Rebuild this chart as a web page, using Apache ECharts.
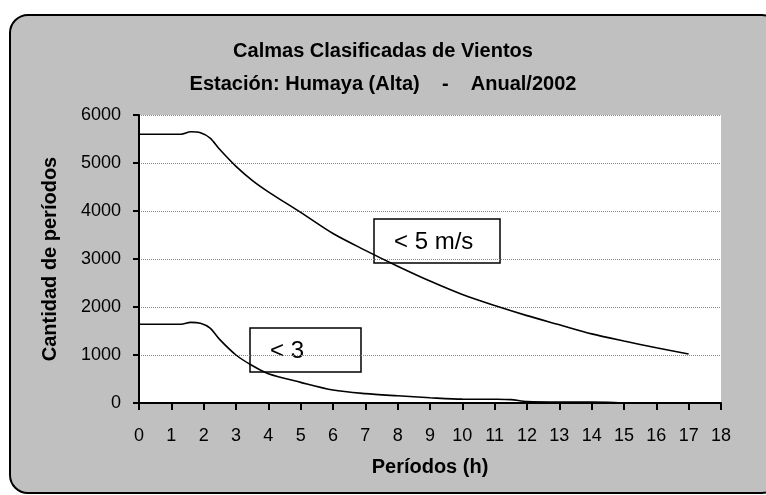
<!DOCTYPE html>
<html>
<head>
<meta charset="utf-8">
<script src="https://cdn.jsdelivr.net/npm/echarts@6/dist/echarts.min.js"></script>
<style>
html,body{margin:0;padding:0;background:#ffffff;}
#chart{width:766px;height:495px;}
</style>
</head>
<body>
<div id="chart"></div>
<script>
var titleLine1 = 'Calmas Clasificadas de Vientos';
var titleLine2 = 'Estación: Humaya (Alta)    -    Anual/2002';
var xAxisName = 'Períodos (h)';
var yAxisName = 'Cantidad de períodos';
var labelA = '< 5 m/s';
var labelB = '< 3';

var hoursA = [0, 1, 1.3, 1.6, 1.9, 2.2, 2.5, 3, 3.5, 4, 5, 6, 7, 8, 9, 10, 11, 12, 13, 14, 15, 16, 17];
var valuesA = [5600, 5600, 5600, 5650, 5630, 5520, 5280, 4930, 4640, 4400, 3970, 3530, 3180, 2850, 2540, 2260, 2030, 1820, 1630, 1440, 1290, 1150, 1020];

var hoursB = [0, 1, 1.3, 1.6, 1.9, 2.2, 2.5, 3, 3.5, 4, 5, 6, 7, 8, 9, 10, 11, 11.5, 12, 13, 14, 14.5, 15];
var valuesB = [1640, 1640, 1640, 1680, 1660, 1560, 1320, 1000, 780, 610, 430, 270, 195, 150, 110, 80, 78, 70, 30, 20, 20, 15, 0];

function pairs(xs, ys) {
  var out = [];
  for (var i = 0; i < xs.length; i++) out.push([xs[i], ys[i]]);
  return out;
}

var FONT = '"Liberation Sans", Arial, sans-serif';
var chart = echarts.init(document.getElementById('chart'), null, {renderer: 'canvas'});

var option = {
  backgroundColor: '#ffffff',
  animation: false,
  textStyle: {fontFamily: FONT},
  graphic: [
    {
      type: 'rect', z: -10, silent: true,
      shape: {x: 10, y: 15, width: 770, height: 478, r: 18},
      style: {fill: '#c0c0c0', stroke: '#000000', lineWidth: 2}
    },
    {
      type: 'rect', z: -5, silent: true,
      shape: {x: 139, y: 115, width: 582, height: 288},
      style: {fill: '#ffffff'}
    },
    {
      type: 'group', z: 100, x: 374, y: 219,
      children: [
        {type: 'rect', shape: {x: 0, y: 0, width: 126, height: 44}, style: {fill: '#ffffff', stroke: '#000000', lineWidth: 1.5}},
        {type: 'text', x: 20, y: 23, style: {text: labelA, font: '24px ' + FONT, fill: '#000000', verticalAlign: 'middle', align: 'left'}}
      ]
    },
    {
      type: 'group', z: 100, x: 250, y: 328,
      children: [
        {type: 'rect', shape: {x: 0, y: 0, width: 111, height: 44}, style: {fill: '#ffffff', stroke: '#000000', lineWidth: 1.5}},
        {type: 'text', x: 20, y: 23, style: {text: labelB, font: '24px ' + FONT, fill: '#000000', verticalAlign: 'middle', align: 'left'}}
      ]
    }
  ],
  title: [
    {text: titleLine1, left: 'center', top: 36, textStyle: {fontFamily: FONT, fontSize: 20, fontWeight: 'bold', color: '#000000'}},
    {text: titleLine2, left: 'center', top: 69, textStyle: {fontFamily: FONT, fontSize: 20, fontWeight: 'bold', color: '#000000'}}
  ],
  grid: {left: 139, top: 115, right: 45, bottom: 92, containLabel: false},
  xAxis: {
    type: 'value', min: 0, max: 18, interval: 1,
    name: xAxisName, nameLocation: 'middle', nameGap: 54,
    nameTextStyle: {fontFamily: FONT, fontSize: 20, fontWeight: 'bold', color: '#000000'},
    axisLine: {show: true, onZero: false, lineStyle: {color: '#000000', width: 2}},
    axisTick: {show: true, length: 7, inside: false, lineStyle: {color: '#000000', width: 2}},
    axisLabel: {fontFamily: FONT, fontSize: 18, color: '#000000', margin: 24},
    splitLine: {show: false}
  },
  yAxis: {
    type: 'value', min: 0, max: 6000, interval: 1000,
    name: yAxisName, nameLocation: 'middle', nameGap: 79, nameRotate: 90,
    nameTextStyle: {fontFamily: FONT, fontSize: 20, fontWeight: 'bold', color: '#000000'},
    axisLine: {show: true, lineStyle: {color: '#000000', width: 2}},
    axisTick: {show: true, length: 6, inside: false, lineStyle: {color: '#000000', width: 2}},
    axisLabel: {fontFamily: FONT, fontSize: 18, color: '#000000', margin: 18, formatter: function (v) { return String(v); }},
    splitLine: {show: true, lineStyle: {color: '#888888', width: 1, type: [1, 1]}}
  },
  series: [
    {
      type: 'line', data: pairs(hoursA, valuesA), smooth: 0.3, symbol: 'none',
      lineStyle: {color: '#000000', width: 1.6}, z: 5
    },
    {
      type: 'line', data: pairs(hoursB, valuesB), smooth: 0.3, symbol: 'none',
      lineStyle: {color: '#000000', width: 1.6}, z: 5
    }
  ]
};
chart.setOption(option);
</script>
</body>
</html>
